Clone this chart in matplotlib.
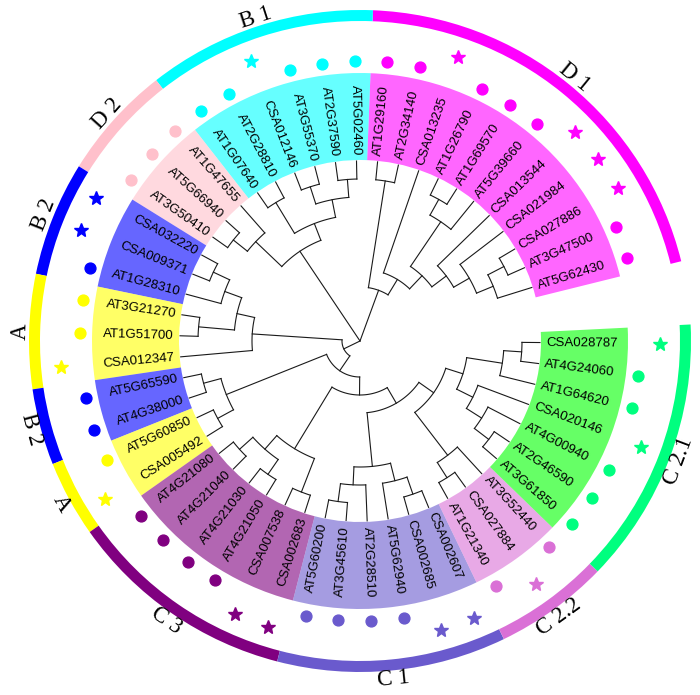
import numpy as np
import matplotlib
matplotlib.use('Agg')
import matplotlib.pyplot as plt
from matplotlib.patches import Wedge

# tree topology, leaves listed counter-clockwise starting at AT5G62430
tree_newick = (
    "(((((((AT5G62430,(AT3G47500,CSA027886)),CSA021984),CSA013544),"
    "(AT5G39660,(AT1G69570,AT1G26790))),CSA013235),(AT2G34140,AT1G29160)),"
    "((((AT5G02460,AT2G37590),(AT3G55370,CSA012146)),(AT2G28810,AT1G07640)),"
    "(AT1G47655,(AT5G66940,AT3G50410))),"
    "(((((CSA032220,CSA009371),AT1G28310),(AT3G21270,AT1G51700)),CSA012347),"
    "(((AT5G65590,AT4G38000),(AT5G60850,CSA005492)),"
    "((((AT4G21080,AT4G21040),(AT4G21030,AT4G21050)),(CSA007538,CSA002683)),"
    "((((AT5G60200,AT3G45610),AT2G28510),(AT5G62940,(CSA002685,CSA002607))),"
    "(((AT1G21340,CSA027884),AT3G52440),"
    "((((AT3G61850,AT2G46590),AT4G00940),CSA020146),(AT1G64620,(AT4G24060,CSA028787))))))))))"
)

# groups in the same counter-clockwise order
group_names = ["D 1", "B 1", "D 2", "B 2", "A", "B 2", "A", "C 3", "C 1", "C 2.2", "C 2.1"]
group_sizes = [11, 6, 3, 3, 3, 2, 2, 6, 6, 3, 7]
ring_colors = ["#FF00FF", "#00FFFF", "#FFC0CB", "#0000FF", "#FFFF00", "#0000FF",
               "#FFFF00", "#800080", "#6A5ACD", "#DA70D6", "#00FF7F"]
block_colors = ["#FF00FF", "#00FFFF", "#FFC0CB", "#0000FF", "#FFFF00", "#0000FF",
                "#FFFF00", "#800080", "#6A5ACD", "#DA70D6", "#00FF00"]

# layout settings
start_angle = 17.3
step = 6.71
tip_r = 180
label_r = 186
block_in, block_out = 181, 268
dot_r, star_r = 280, 300
ring_r, ring_w = 325.5, 11
group_label_r = 340


def parse(s):
    pos = 0

    def node():
        nonlocal pos
        if s[pos] == '(':
            pos += 1
            kids = [node()]
            while s[pos] == ',':
                pos += 1
                kids.append(node())
            pos += 1
            return kids
        j = pos
        while s[pos] not in ',()':
            pos += 1
        return s[j:pos]
    return node()


def pol(r, a):
    t = np.deg2rad(a)
    return r * np.cos(t), r * np.sin(t)


tree = parse(tree_newick)
leaves = []
nodes = []  # (own height, [(child angle, child height)])


def layout(n):
    if isinstance(n, str):
        a = start_angle + step * len(leaves)
        leaves.append(n)
        return a, 0
    res = [layout(k) for k in n]
    h = 1 + max(r[1] for r in res)
    nodes.append((h, res))
    return np.mean([r[0] for r in res]), h


root_angle, H = layout(tree)


def rad(h):
    return tip_r * (1 - h / H)


fig = plt.figure(figsize=(7, 6.95), dpi=100)
ax = fig.add_axes([0, 0, 1, 1])
ax.set_xlim(-360, 340)
ax.set_ylim(-354, 341)
ax.set_aspect('equal')
ax.axis('off')

# colored blocks behind labels, outer ring, group labels
i0 = 0
for name, n, rc, bc in zip(group_names, group_sizes, ring_colors, block_colors):
    a1 = start_angle + step * (i0 - 0.5)
    a2 = start_angle + step * (i0 + n - 0.5)
    ax.add_patch(Wedge((0, 0), block_out, a1, a2, width=block_out - block_in,
                       facecolor=bc, alpha=0.6, edgecolor='none', zorder=1))
    ax.add_patch(Wedge((0, 0), ring_r + ring_w / 2, a1, a2, width=ring_w,
                       facecolor=rc, edgecolor='none', zorder=1))
    am = (a1 + a2) / 2
    x, y = pol(group_label_r, am)
    am360 = am % 360
    rot = am360 - 90 if am360 < 180 else am360 + 90
    ax.text(x, y, name, rotation=rot, rotation_mode='anchor', ha='center', va='center',
            fontsize=16.5, family='Liberation Serif', zorder=3)
    for k in range(i0, i0 + n):
        a = start_angle + step * k
        if leaves[k].startswith('CSA'):
            x, y = pol(star_r, a)
            ax.plot(x, y, marker='*', ms=10, color=rc, mec=rc, ls='none', zorder=3)
        else:
            x, y = pol(dot_r, a)
            ax.plot(x, y, marker='o', ms=7.8, color=rc, mec=rc, ls='none', zorder=3)
    i0 += n

# dendrogram
for h, kids in nodes:
    r0 = rad(h)
    angs = [k[0] for k in kids]
    if r0 > 0:
        th = np.linspace(min(angs), max(angs), 60)
        xs, ys = pol(r0, th)
        ax.plot(xs, ys, color='#1a1a1a', lw=0.8, zorder=2)
    for a, kh in kids:
        x0, y0 = pol(r0, a)
        x1, y1 = pol(rad(kh), a)
        ax.plot([x0, x1], [y0, y1], color='#1a1a1a', lw=0.8, zorder=2)

# leaf labels
for k, name in enumerate(leaves):
    a = (start_angle + step * k) % 360
    x, y = pol(label_r, a)
    if 90 < a < 270:
        rot, ha = a - 180, 'right'
    else:
        rot, ha = a, 'left'
    ax.text(x, y, name, rotation=rot, rotation_mode='anchor', ha=ha, va='center',
            fontsize=9.5, family='Liberation Sans', zorder=3)

fig.savefig('out.png', dpi=100)
